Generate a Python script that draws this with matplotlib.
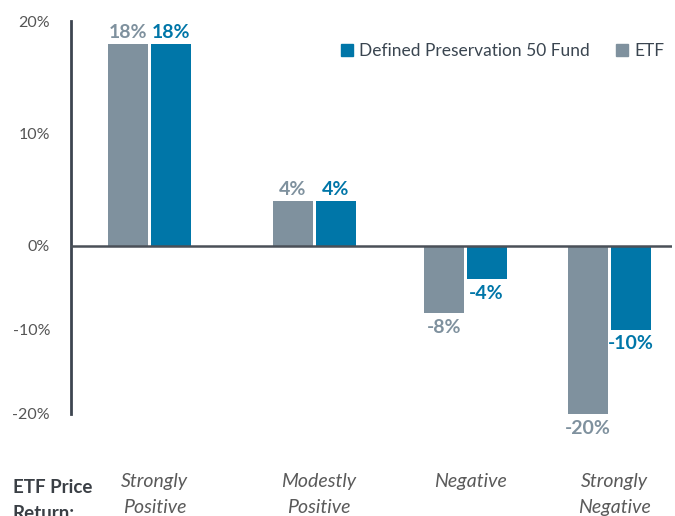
import numpy as np
import matplotlib
matplotlib.use("Agg")
import matplotlib.pyplot as plt
from matplotlib.patches import Patch
from matplotlib.transforms import blended_transform_factory

plt.rcParams['font.family'] = ['Lato', 'DejaVu Sans']

categories = ["Strongly\nPositive", "Modestly\nPositive", "Negative", "Strongly\nNegative"]
etf = [18, 4, -8, -20]
fund = [18, 4, -4, -10]
yticks = [-20, -10, 0, 10, 20]

c_etf = "#7f919e"
c_fund = "#0076a8"

# group centres (uneven spacing as in the original)
xs = np.array([1.495, 3.14, 4.65, 6.095])
w = 0.40
off = 0.215

def fwd(y):
    y = np.asarray(y, dtype=float)
    return np.where(y >= 0, y, y * 0.75)

def inv(y):
    y = np.asarray(y, dtype=float)
    return np.where(y >= 0, y, y / 0.75)

fig = plt.figure(figsize=(6.75, 5.16), dpi=100)
ax = fig.add_axes([0.105, 0.1977, 0.891, 0.7613])
ax.set_yscale('function', functions=(fwd, inv))

b1 = ax.bar(xs - off, etf, w, color=c_etf, zorder=2)
b2 = ax.bar(xs + off, fund, w, color=c_fund, zorder=2)

for bars, vals, c in [(b1, etf, c_etf), (b2, fund, c_fund)]:
    for r, v in zip(bars, vals):
        x = r.get_x() + r.get_width() / 2
        if v >= 0:
            ax.annotate(f"{v}%", (x, v), xytext=(0, 2), textcoords='offset points',
                        ha='center', va='bottom', color=c, fontsize=14, fontweight='bold')
        else:
            ax.annotate(f"{v}%", (x, v), xytext=(0, -4), textcoords='offset points',
                        ha='center', va='top', color=c, fontsize=14, fontweight='bold')

ax.axhline(0, color="#4a5058", lw=1.8, zorder=3)

ax.set_xlim(0.71, 6.72)
ax.set_ylim(-20, 20)
ax.set_yticks(yticks)
ax.set_yticklabels([f"{t}%" for t in yticks])
ax.tick_params(axis='y', length=0, pad=15, labelsize=11.5, labelcolor="#555555")
ax.set_xticks([])
for s in ['top', 'right', 'bottom']:
    ax.spines[s].set_visible(False)
ax.spines['left'].set_color("#3d4550")
ax.spines['left'].set_linewidth(2)

# category labels along the bottom
trans = blended_transform_factory(ax.transData, fig.transFigure)
for x, lab in zip(xs, categories):
    ax.text(x + 0.05, 1 - 473 / 516, lab, transform=trans, ha='center', va='top',
            fontsize=14, style='italic', color="#5a5a5a", linespacing=1.62, clip_on=False)
fig.text(0.019, 1 - 479 / 516, "ETF Price\nReturn:", ha='left', va='top',
         fontsize=13.5, fontweight='bold', color="#3a3f45", linespacing=1.65)

handles = [Patch(color=c_fund, label="Defined Preservation 50 Fund"),
           Patch(color=c_etf, label="ETF")]
leg = ax.legend(handles=handles, loc='upper right', bbox_to_anchor=(1.012, 0.985), ncol=2,
                frameon=False, fontsize=12.5, handlelength=0.7, handleheight=0.7,
                handletextpad=0.35, columnspacing=1.5)
for t in leg.get_texts():
    t.set_color("#3a4550")

fig.savefig("out.png", dpi=100)
